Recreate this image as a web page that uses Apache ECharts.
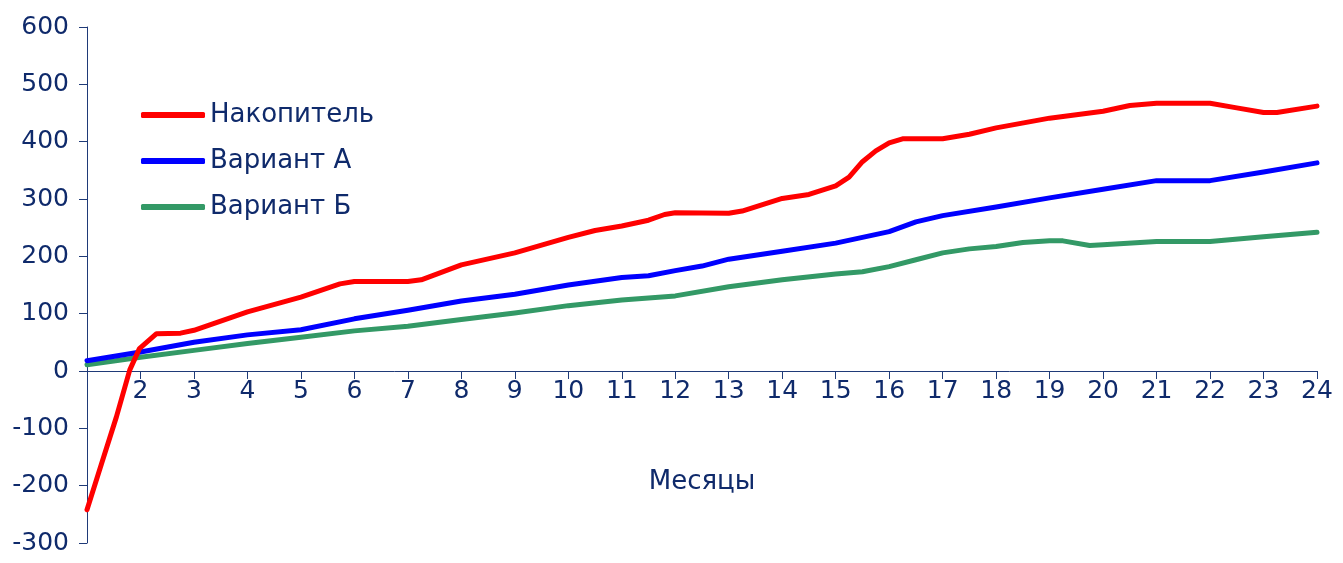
<!DOCTYPE html>
<html>
<head>
<meta charset="utf-8">
<script src="https://cdn.jsdelivr.net/npm/echarts@6/dist/echarts.min.js"></script>
<style>
html,body{margin:0;padding:0;background:#fff;}
#chart{width:1343px;height:563px;}
</style>
</head>
<body>
<div id="chart"></div>
<script>
const seriesNames = ['Накопитель', 'Вариант А', 'Вариант Б'];
const axisName = 'Месяцы';
const yTicks = [-300, -200, -100, 0, 100, 200, 300, 400, 500, 600];
const monthTicks = [1,2,3,4,5,6,7,8,9,10,11,12,13,14,15,16,17,18,19,20,21,22,23,24];

const accumMonths = [1,1.27,1.55,1.8,1.98,2.3,2.75,3,4,5,5.73,6,7,7.25,8,9,10,10.5,11,11.5,11.8,12,13,13.25,14,14.5,15,15.25,15.5,15.75,16,16.25,17,17.5,18,19,20,20.5,21,22,22.5,23,23.25,24];
const accumValues = [-242,-162,-80,2,39,65,66,71,103,129,152,156,156,159,185,206,233,245,253,263,273,276,275,279,301,308,323,338,365,384,398,405,405,413,424,441,453,463,467,467,459,451,451,462];

const variantAMonths = [1,2,3,4,5,6,7,8,9,10,11,11.5,12,12.5,13,14,15,16,16.5,17,18,19,20,21,22,23,24];
const variantAValues = [18,33,50,63,72,91,106,122,134,150,163,166,175,183,195,209,223,243,260,271,286,302,317,332,332,347,363];

const variantBMonths = [1,2,3,4,5,6,7,8,9,10,11,12,13,14,15,15.5,16,16.5,17,17.5,18,18.5,19,19.25,19.75,20,21,22,23,24];
const variantBValues = [11,24,36,48,59,70,78,90,101,114,124,131,147,159,169,173,182,194,206,213,217,224,227,227,219,220,226,226,234,242];

const colors = ['#ff0000', '#0000ff', '#339966'];
const textColor = '#0f2a6b';
const axisColor = '#1f3a78';
const font = 'DejaVu Sans';

function zip(xs, ys) { return xs.map((x, i) => [x, ys[i]]); }
const seriesData = [zip(accumMonths, accumValues), zip(variantAMonths, variantAValues), zip(variantBMonths, variantBValues)];

const chart = echarts.init(document.getElementById('chart'), null, {renderer: 'canvas'});
chart.setOption({
  animation: false,
  backgroundColor: '#ffffff',
  color: colors,
  grid: {left: 87, right: 26, top: 27, bottom: 20, containLabel: false, outerBoundsMode: 'none'},
  legend: {
    orient: 'vertical',
    left: 136,
    top: 97,
    itemWidth: 64,
    itemHeight: 6,
    itemGap: 20,
    icon: 'roundRect',
    data: seriesNames,
    textStyle: {fontFamily: font, fontSize: 26, color: textColor, padding: [0,0,0,0]}
  },
  xAxis: {
    type: 'value',
    min: monthTicks[0],
    max: monthTicks[monthTicks.length - 1],
    interval: 1,
    splitLine: {show: false},
    axisLine: {onZero: true, lineStyle: {color: axisColor, width: 1}},
    axisTick: {show: true, length: 8, inside: false, lineStyle: {color: axisColor}},
    axisLabel: {
      fontFamily: font, fontSize: 25, color: textColor, margin: -164,
      formatter: v => (v === 1 ? '' : String(v))
    },
    name: axisName,
    nameLocation: 'middle',
    nameGap: -74,
    nameTextStyle: {fontFamily: font, fontSize: 26, color: textColor}
  },
  yAxis: {
    type: 'value',
    min: yTicks[0],
    max: yTicks[yTicks.length - 1],
    interval: 100,
    splitLine: {show: false},
    axisLine: {show: true, onZero: false, lineStyle: {color: axisColor, width: 1}},
    axisTick: {show: true, length: 8, lineStyle: {color: axisColor}},
    axisLabel: {fontFamily: font, fontSize: 25, color: textColor, margin: 18}
  },
  series: seriesNames.map((name, i) => ({
    name: name,
    type: 'line',
    data: seriesData[i],
    symbol: 'none',
    smooth: false,
    lineStyle: {width: 5, color: colors[i], cap: 'round', join: 'round'},
    itemStyle: {color: colors[i]},
    z: 3 - i
  }))
});
</script>
</body>
</html>
